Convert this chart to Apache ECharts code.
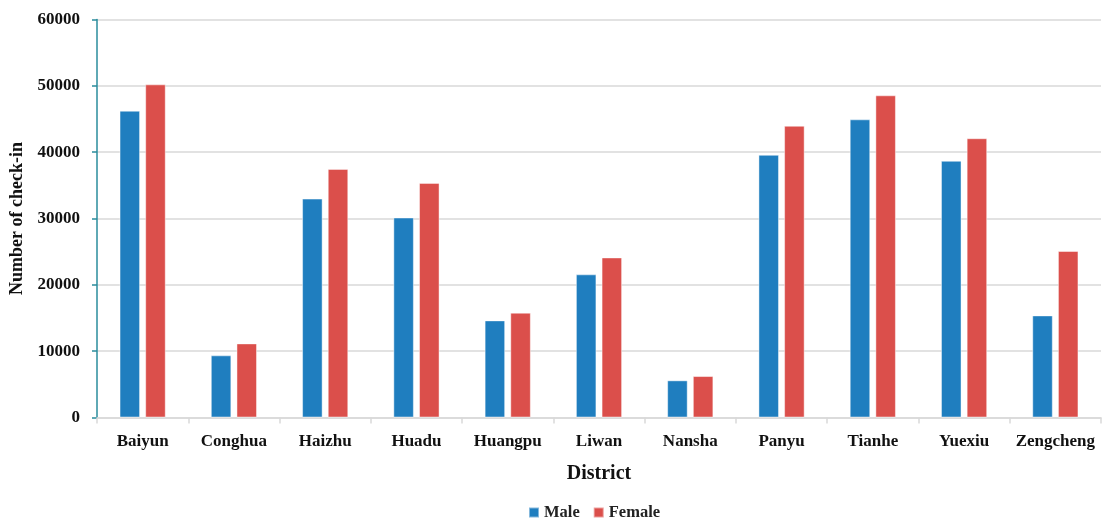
<!DOCTYPE html>
<html>
<head>
<meta charset="utf-8">
<script src="https://cdn.jsdelivr.net/npm/echarts@6/dist/echarts.min.js"></script>
<style>
  html, body { margin: 0; padding: 0; background: #fff; }
  #chart { width: 1102px; height: 520px; }
</style>
</head>
<body>
<div id="chart"></div>
<script>
// Check-ins per district, split by gender
const districts = ['Baiyun', 'Conghua', 'Haizhu', 'Huadu', 'Huangpu', 'Liwan', 'Nansha', 'Panyu', 'Tianhe', 'Yuexiu', 'Zengcheng'];
const maleCheckins = [46250, 9370, 33000, 30150, 14640, 21580, 5600, 39600, 44950, 38700, 15390];
const femaleCheckins = [50220, 11170, 37480, 35370, 15800, 24130, 6250, 43980, 48570, 42100, 25100];
const yTicks = [0, 10000, 20000, 30000, 40000, 50000, 60000];

const FONT = '"Liberation Serif", "Times New Roman", serif';
const chart = echarts.init(document.getElementById('chart'), null, { renderer: 'canvas' });

chart.setOption({
  animation: false,
  textStyle: { fontFamily: FONT },
  grid: { left: 97, right: 1, top: 19.5, bottom: 102.5, containLabel: false, outerBoundsMode: 'none' },
  legend: {
    top: 499,
    left: 523,
    itemWidth: 10,
    itemHeight: 10,
    itemGap: 13,
    icon: 'rect',
    textStyle: { fontFamily: FONT, fontSize: 16.5, fontWeight: 'bold', color: '#222' },
    data: ['Male', 'Female']
  },
  xAxis: {
    type: 'category',
    data: districts,
    name: 'District',
    nameLocation: 'middle',
    nameGap: 46,
    nameTextStyle: { fontFamily: FONT, fontSize: 20, fontWeight: 'bold', color: '#111' },
    axisLine: { lineStyle: { color: '#d9d9d9', width: 1.5 } },
    axisTick: { show: true, length: 6, lineStyle: { color: '#d9d9d9', width: 1.5 } },
    axisLabel: { fontFamily: FONT, fontSize: 17, fontWeight: 'bold', color: '#111', margin: 16, interval: 0 }
  },
  yAxis: {
    type: 'value',
    min: yTicks[0],
    max: yTicks[yTicks.length - 1],
    interval: yTicks[1] - yTicks[0],
    name: 'Number of check-in',
    nameLocation: 'middle',
    nameGap: 58,
    nameRotate: 90,
    nameTextStyle: { fontFamily: FONT, fontSize: 18, fontWeight: 'bold', color: '#111' },
    axisLine: { show: true, lineStyle: { color: '#2a8c9c', width: 1.5 } },
    axisTick: { show: true, length: 5, lineStyle: { color: '#2a8c9c', width: 1.5 } },
    axisLabel: {
      fontFamily: FONT, fontSize: 17, fontWeight: 'bold', color: '#111', margin: 17,
      formatter: (v) => String(v)
    },
    splitLine: { show: true, lineStyle: { color: '#d9d9d9', width: 1.5 } }
  },
  series: [
    {
      name: 'Male',
      type: 'bar',
      data: maleCheckins,
      barWidth: '22.5%',
      barGap: '25%',
      itemStyle: { color: '#1f7ebf', borderColor: 'rgba(255,255,255,0.45)', borderWidth: 1 }
    },
    {
      name: 'Female',
      type: 'bar',
      data: femaleCheckins,
      barWidth: '22.5%',
      itemStyle: { color: '#db4f4b', borderColor: 'rgba(255,255,255,0.45)', borderWidth: 1 }
    }
  ]
});
</script>
</body>
</html>
